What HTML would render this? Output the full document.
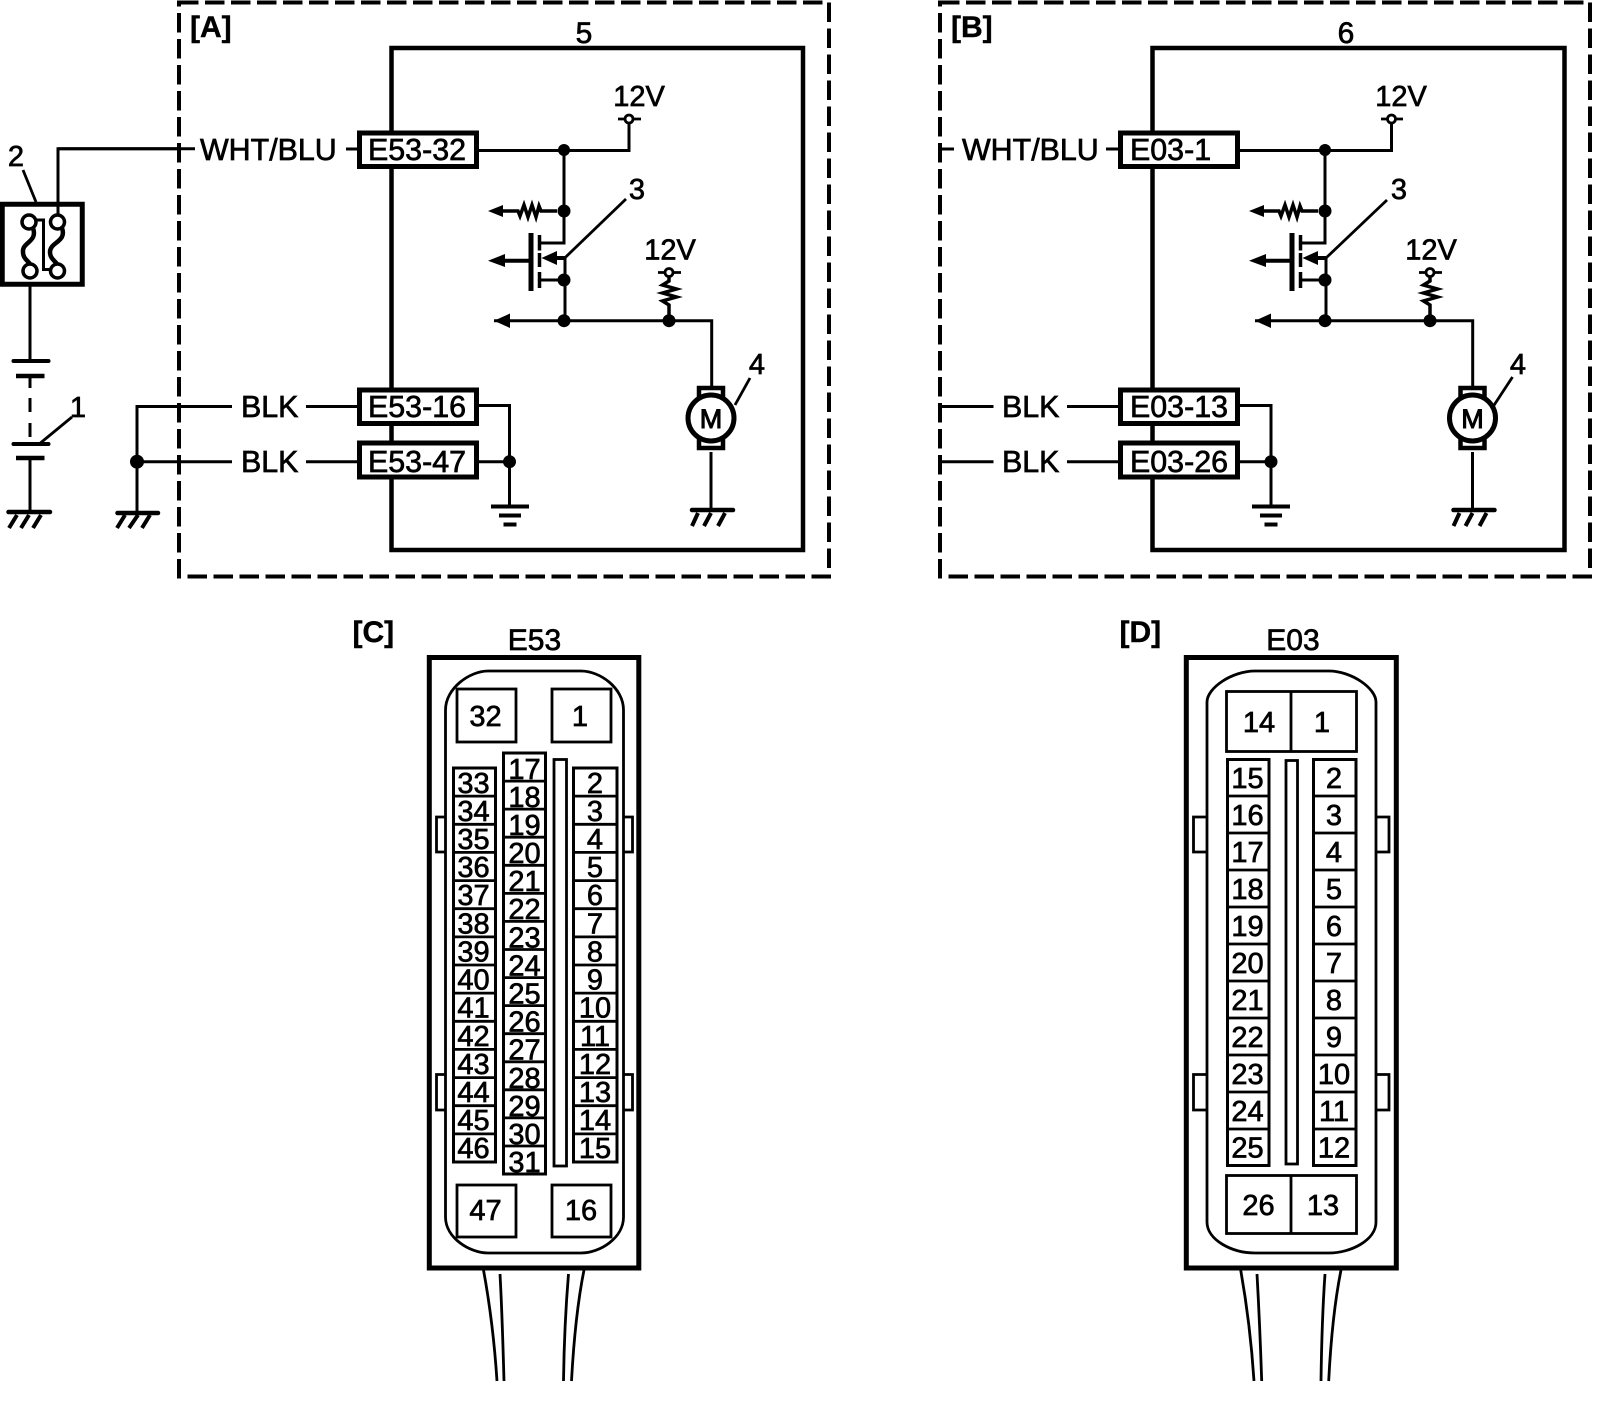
<!DOCTYPE html>
<html><head><meta charset="utf-8"><style>
html,body{margin:0;padding:0;background:#fff}
svg{display:block}
text{font-family:"Liberation Sans",sans-serif;fill:#000;stroke:#000;stroke-width:.7px}
.t{font-size:30.4px}
.n{font-size:29px;text-anchor:middle}
.b{font-size:30px;font-weight:bold;stroke-width:.4px}
.w{fill:none;stroke:#000;stroke-width:3}
.thin{fill:none;stroke:#000;stroke-width:2.8}
.box{fill:#fff;stroke:#000;stroke-width:5}
</style></head><body>
<svg width="1600" height="1424" viewBox="0 0 1600 1424" xmlns="http://www.w3.org/2000/svg">
<rect width="1600" height="1424" fill="#fff"/>
<defs>
<g id="inner">
<path class="w" d="M564 150V243H538M565 258V320M539 280H564M494 320.700H711.700V387"/>
<path d="M502 211H518L520 216L524 205L528 217L532 205L536 217L539 206L541 211H557" fill="none" stroke="#000" stroke-width="3.500"/>
<circle cx="564" cy="150" r="6"/><circle cx="564" cy="211" r="6.500"/><circle cx="564" cy="280" r="6.500"/><circle cx="564" cy="320.700" r="6.500"/><circle cx="669" cy="320.700" r="6.500"/>
<polygon points="488,211 503,205 503,217"/>
<polygon points="488,260.700 505,254 505,267"/>
<polygon points="494,320.700 510,313.500 510,328"/>
<polygon points="541.500,258 557,251 557,265"/>
<path d="M531 233V291" stroke="#000" stroke-width="5"/>
<path d="M505 260.700H531M557 258H565" class="w" style="stroke-width:4"/>
<path d="M539.500 235V250.500M539.500 253V267M539.500 272V288" stroke="#000" stroke-width="3.500"/>
<path d="M669 277V281L662.500 285L676.500 289L662.500 293L676.500 297L662.500 301L669 305V316" fill="none" stroke="#000" stroke-width="3.500"/>
<circle cx="669" cy="272.500" r="4" fill="#fff" stroke="#000" stroke-width="2.800"/>
<path d="M658 272.500H665M673 272.500H681" stroke="#000" stroke-width="2.800"/>
</g>
<g id="motor">
<rect x="-12" y="-30" width="24" height="9" class="box" style="stroke-width:4.500"/>
<rect x="-12" y="21" width="24" height="9" class="box" style="stroke-width:4.500"/>
<ellipse cx="0" cy="0" rx="23" ry="23" class="box"/>
<path d="M0 34V92" class="w"/>
<path d="M-19 92H22" stroke="#000" stroke-width="4.500" stroke-linecap="round"/>
<path d="M-13 95L-19 108M0 95L-7 108M14 95L7 108" stroke="#000" stroke-width="4"/>
</g>
<g id="gnd3">
<path d="M-19 0H19M-11 9H11M-6.500 18H6.500" stroke="#000" stroke-width="4"/>
</g>
</defs>

<!-- Panel A -->
<rect x="179" y="2.500" width="650" height="574" fill="none" stroke="#000" stroke-width="4" stroke-dasharray="19.500 6.500"/>
<rect x="391.500" y="48" width="411.500" height="502" fill="none" stroke="#000" stroke-width="4.500"/>
<text class="b" x="190" y="37">[A]</text>
<text class="n" style="font-size:30px" x="584" y="43">5</text>

<use href="#inner"/>
<path class="w" d="M478 150.500H629V123"/>
<circle cx="629" cy="119" r="4" fill="#fff" stroke="#000" stroke-width="2.800"/>
<path d="M618 119H625M633 119H641" stroke="#000" stroke-width="2.800"/>
<text class="n" x="639" y="106">12V</text>
<text class="n" x="670" y="259.500">12V</text>
<path d="M565 257.700L626 199" stroke="#000" stroke-width="2.800"/>
<text class="n" x="637" y="199">3</text>
<use href="#motor" transform="translate(711 418)"/>
<path d="M735 405L750 378" stroke="#000" stroke-width="2.800"/>
<text class="n" x="757" y="374">4</text>
<text x="711" y="428" class="n" style="font-size:27px;stroke-width:1px">M</text>

<path class="w" d="M58 215V148.700H195M346 149H358"/>
<text class="t" x="200" y="160">WHT/BLU</text>
<rect class="box" x="359.500" y="133" width="117" height="33.500"/>
<text class="t" x="368" y="160">E53-32</text>

<path class="w" d="M232 406.500H137V513M137 461.700H232M306 406.500H358M306 461.700H358"/>
<circle cx="137" cy="461.700" r="7"/>
<text class="t" x="241" y="417">BLK</text>
<text class="t" x="241" y="472">BLK</text>
<rect class="box" x="359.500" y="390" width="117" height="33.500"/>
<text class="t" x="368" y="417">E53-16</text>
<rect class="box" x="359.500" y="443" width="117" height="34"/>
<text class="t" x="368" y="472">E53-47</text>
<path class="w" d="M478 405.500H509.500V506M478 461.700H509.500"/>
<circle cx="509.500" cy="461.700" r="6.500"/>
<use href="#gnd3" transform="translate(510 506.500)"/>

<!-- Fuse / battery -->
<rect x="2.250" y="204.250" width="80" height="80" fill="#fff" stroke="#000" stroke-width="5"/>
<text class="n" x="16" y="166">2</text>
<path d="M23 170L36 202" stroke="#000" stroke-width="2.800"/>
<path class="w" d="M58 204V215M30 284V361"/>
<path d="M33 228C38 242 22 242 23 252C23 258 27 260 30 264M62 228C67 242 50 242 50 252C50 258 54 260 57 264" fill="none" stroke="#000" stroke-width="4.500"/>
<path class="w" d="M37 220H43.500V269.500H51"/>
<circle cx="29" cy="222" r="7" fill="#fff" stroke="#000" stroke-width="3.500"/>
<circle cx="57.500" cy="222" r="7" fill="#fff" stroke="#000" stroke-width="3.500"/>
<circle cx="30" cy="271" r="7" fill="#fff" stroke="#000" stroke-width="3.500"/>
<circle cx="57.500" cy="271" r="7" fill="#fff" stroke="#000" stroke-width="3.500"/>
<path d="M13.500 361H48.500M13.500 444H48.500" stroke="#000" stroke-width="4" stroke-linecap="round"/>
<path d="M16 376H44.500M16 458H44.500" stroke="#000" stroke-width="4.500"/>
<path class="w" d="M30 376V388M30 398V412M30 423V437M30 458V512"/>
<path d="M72 417L38 445" stroke="#000" stroke-width="2.800"/>
<text class="n" x="78" y="417">1</text>
<path d="M8.500 512H50M117.500 513H158" stroke="#000" stroke-width="4.500" stroke-linecap="round"/>
<path d="M17 515L9 528M29 515L21 528M41 515L33 528M125 515L117 528M138 515L129 528M150 515L142 528" stroke="#000" stroke-width="4"/>
<path class="w" d="M58 148.700H178M137 406.500H179"/>

<!-- Panel B -->
<rect x="940" y="2.500" width="650" height="574" fill="none" stroke="#000" stroke-width="4" stroke-dasharray="19.500 6.500"/>
<rect x="1152.500" y="48" width="412" height="502" fill="none" stroke="#000" stroke-width="4.500"/>
<text class="b" x="951" y="37">[B]</text>
<text class="n" style="font-size:30px" x="1346" y="43">6</text>
<use href="#inner" transform="translate(761 0)"/>
<path class="w" d="M1238 150.500H1391.500V123"/>
<circle cx="1391.500" cy="119" r="4" fill="#fff" stroke="#000" stroke-width="2.800"/>
<path d="M1381 119H1387.500M1395.500 119H1403" stroke="#000" stroke-width="2.800"/>
<text class="n" x="1401" y="106">12V</text>
<text class="n" x="1431" y="259.500">12V</text>
<path d="M1326 258L1387 200" stroke="#000" stroke-width="2.800"/>
<text class="n" x="1399" y="199">3</text>
<use href="#motor" transform="translate(1472.500 418)"/>
<path d="M1493.500 406L1512.500 377" stroke="#000" stroke-width="2.800"/>
<text class="n" x="1518" y="374">4</text>
<text x="1472.500" y="428" class="n" style="font-size:27px;stroke-width:1px">M</text>
<path class="w" d="M940 149H954M1106 149H1119"/>
<text class="t" x="962" y="160">WHT/BLU</text>
<rect class="box" x="1120.500" y="133" width="117" height="33.500"/>
<text class="t" x="1130" y="160">E03-1</text>
<path class="w" d="M940 406.500H993.500M1067 406.500H1119M940 461.700H993.500M1067 461.700H1119"/>
<text class="t" x="1002" y="417">BLK</text>
<text class="t" x="1002" y="472">BLK</text>
<rect class="box" x="1120.500" y="390" width="117" height="33.500"/>
<text class="t" x="1130" y="417">E03-13</text>
<rect class="box" x="1120.500" y="443" width="117" height="34"/>
<text class="t" x="1130" y="472">E03-26</text>
<path class="w" d="M1239 405.500H1271V506M1239 461.700H1271"/>
<circle cx="1271" cy="461.700" r="6.500"/>
<use href="#gnd3" transform="translate(1271 506.500)"/>

<!-- Connector C -->
<text class="b" x="352.500" y="642">[C]</text>
<text class="n" style="font-size:30px" x="534.500" y="650">E53</text>
<rect x="429.300" y="657.500" width="209.500" height="610.500" fill="none" stroke="#000" stroke-width="5"/>
<path class="thin" d="M445.500 710C445.500 688 470 671 488 671H581C600 671 623.500 688 623.500 710V1217C623.500 1238 600 1253 581 1253H488C470 1253 445.500 1238 445.500 1217Z"/>
<path class="thin" d="M445 817H436.500V852H445M445 1074.500H436.500V1110H445M624 817H632.500V852H624M624 1074.500H632.500V1110H624"/>
<rect class="thin" x="457" y="689" width="59" height="53"/>
<rect class="thin" x="552" y="689" width="59" height="53"/>
<text class="n" x="485.500" y="726">32</text>
<text class="n" x="580" y="726">1</text>
<rect class="thin" x="457" y="1185" width="59" height="52"/>
<rect class="thin" x="552" y="1185" width="59" height="52"/>
<text class="n" x="485.500" y="1220">47</text>
<text class="n" x="581" y="1220">16</text>
<rect x="453.500" y="768" width="42" height="394" fill="none" stroke="#000" stroke-width="3"/>
<rect x="573.500" y="768" width="43.500" height="394" fill="none" stroke="#000" stroke-width="3"/>
<path class="thin" d="M453 796.100H496M453 824.300H496M453 852.400H496M453 880.600H496M453 908.700H496M453 936.900H496M453 965H496M453 993.100H496M453 1021.300H496M453 1049.400H496M453 1077.600H496M453 1105.700H496M453 1133.900H496"/>
<path class="thin" d="M573 796.100H617M573 824.300H617M573 852.400H617M573 880.600H617M573 908.700H617M573 936.900H617M573 965H617M573 993.100H617M573 1021.300H617M573 1049.400H617M573 1077.600H617M573 1105.700H617M573 1133.900H617"/>
<rect x="503.500" y="753" width="42" height="421" fill="none" stroke="#000" stroke-width="3"/>
<path class="thin" d="M503 781.100H546M503 809.100H546M503 837.200H546M503 865.300H546M503 893.400H546M503 921.400H546M503 949.500H546M503 977.600H546M503 1005.600H546M503 1033.700H546M503 1061.800H546M503 1089.800H546M503 1117.900H546M503 1146H546"/>
<rect class="thin" x="554" y="759.500" width="12.500" height="406.500"/>
<text class="n" x="473.500" y="793">33</text><text class="n" x="473.500" y="821">34</text><text class="n" x="473.500" y="849">35</text><text class="n" x="473.500" y="877">36</text><text class="n" x="473.500" y="905">37</text><text class="n" x="473.500" y="933.500">38</text><text class="n" x="473.500" y="961.500">39</text><text class="n" x="473.500" y="989.500">40</text><text class="n" x="473.500" y="1017.500">41</text><text class="n" x="473.500" y="1046">42</text><text class="n" x="473.500" y="1074">43</text><text class="n" x="473.500" y="1102">44</text><text class="n" x="473.500" y="1130">45</text><text class="n" x="473.500" y="1158">46</text>
<text class="n" x="524.500" y="779">17</text><text class="n" x="524.500" y="807">18</text><text class="n" x="524.500" y="835">19</text><text class="n" x="524.500" y="863">20</text><text class="n" x="524.500" y="891">21</text><text class="n" x="524.500" y="919">22</text><text class="n" x="524.500" y="947.500">23</text><text class="n" x="524.500" y="975.500">24</text><text class="n" x="524.500" y="1003.500">25</text><text class="n" x="524.500" y="1031.500">26</text><text class="n" x="524.500" y="1059.500">27</text><text class="n" x="524.500" y="1088">28</text><text class="n" x="524.500" y="1116">29</text><text class="n" x="524.500" y="1144">30</text><text class="n" x="524.500" y="1172">31</text>
<text class="n" x="595" y="793">2</text><text class="n" x="595" y="821">3</text><text class="n" x="595" y="849">4</text><text class="n" x="595" y="877">5</text><text class="n" x="595" y="905">6</text><text class="n" x="595" y="933.500">7</text><text class="n" x="595" y="961.500">8</text><text class="n" x="595" y="989.500">9</text><text class="n" x="595" y="1017.500">10</text><text class="n" x="595" y="1046">11</text><text class="n" x="595" y="1074">12</text><text class="n" x="595" y="1102">13</text><text class="n" x="595" y="1130">14</text><text class="n" x="595" y="1158">15</text>
<path class="thin" d="M483.500 1270C489 1300 494 1335 497 1381M500 1274C502 1310 503 1345 504 1381M584 1270C578 1300 574 1335 571.500 1381M568.500 1274C565.500 1310 564 1345 563.500 1381"/>

<!-- Connector D -->
<text class="b" x="1119.500" y="642">[D]</text>
<text class="n" style="font-size:30px" x="1293" y="650">E03</text>
<rect x="1186.300" y="657.500" width="210" height="610.500" fill="none" stroke="#000" stroke-width="5"/>
<path class="thin" d="M1207 702C1207 688 1232 671 1255 671H1329C1351 671 1376 688 1376 702V1222C1376 1240 1351 1253 1329 1253H1255C1232 1253 1207 1240 1207 1222Z"/>
<path class="thin" d="M1207 817H1193.500V852H1207M1207 1074.500H1193.500V1110H1207M1376 817H1389V852H1376M1376 1074.500H1389V1110H1376"/>
<rect class="thin" x="1226.500" y="691.500" width="130" height="60"/>
<path class="thin" d="M1291 691V752M1291 1175V1234"/>
<text class="n" x="1259" y="732">14</text>
<text class="n" x="1322" y="732">1</text>
<rect class="thin" x="1226.500" y="1175.500" width="130" height="58"/>
<text class="n" x="1258.500" y="1215">26</text>
<text class="n" x="1323" y="1215">13</text>
<rect x="1227.500" y="759.500" width="41.500" height="406" fill="none" stroke="#000" stroke-width="3"/>
<rect x="1313.500" y="759.500" width="42.500" height="406" fill="none" stroke="#000" stroke-width="3"/>
<path class="thin" d="M1227 796H1269M1227 833H1269M1227 870H1269M1227 907H1269M1227 944H1269M1227 981H1269M1227 1018H1269M1227 1055H1269M1227 1092H1269M1227 1129H1269"/>
<path class="thin" d="M1313 796H1356M1313 833H1356M1313 870H1356M1313 907H1356M1313 944H1356M1313 981H1356M1313 1018H1356M1313 1055H1356M1313 1092H1356M1313 1129H1356"/>
<rect class="thin" x="1286" y="760.500" width="11.500" height="403.500"/>
<text class="n" x="1247.500" y="788">15</text><text class="n" x="1247.500" y="825">16</text><text class="n" x="1247.500" y="862">17</text><text class="n" x="1247.500" y="899">18</text><text class="n" x="1247.500" y="936">19</text><text class="n" x="1247.500" y="973">20</text><text class="n" x="1247.500" y="1010">21</text><text class="n" x="1247.500" y="1047">22</text><text class="n" x="1247.500" y="1084">23</text><text class="n" x="1247.500" y="1121">24</text><text class="n" x="1247.500" y="1157.500">25</text>
<text class="n" x="1334" y="788">2</text><text class="n" x="1334" y="825">3</text><text class="n" x="1334" y="862">4</text><text class="n" x="1334" y="899">5</text><text class="n" x="1334" y="936">6</text><text class="n" x="1334" y="973">7</text><text class="n" x="1334" y="1010">8</text><text class="n" x="1334" y="1047">9</text><text class="n" x="1334" y="1084">10</text><text class="n" x="1334" y="1121">11</text><text class="n" x="1334" y="1157.500">12</text>
<path class="thin" d="M1240.700 1270C1246 1300 1251 1335 1254 1381M1257 1274C1259 1310 1260.500 1345 1261.700 1381M1341 1270C1335 1300 1331 1335 1328.700 1381M1325 1274C1322.500 1310 1321.500 1345 1321 1381"/>
</svg>
</body></html>
